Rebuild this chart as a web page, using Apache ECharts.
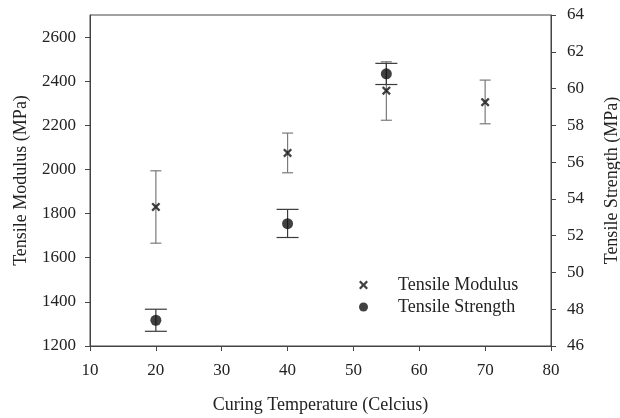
<!DOCTYPE html>
<html>
<head>
<meta charset="utf-8">
<script src="https://cdn.jsdelivr.net/npm/echarts@6/dist/echarts.min.js"></script>
<style>
  html, body { margin: 0; padding: 0; background: #fff; }
  #chart { width: 620px; height: 418px; }
</style>
</head>
<body>
<div id="chart"></div>
<script>
// Curing temperature (°C)
var temperatures = [20, 40, 55, 70];

// Tensile modulus (MPa) with error bar limits
var modulus     = [1830, 2075, 2357, 2305];
var modulusLow  = [1666, 1985, 2223, 2207];
var modulusHigh = [1994, 2165, 2488, 2405];

// Tensile strength (MPa) with error bar limits, only at 20, 40, 55 °C
var strengthTemps = [20, 40, 55];
var strength     = [47.4, 52.65, 60.8];
var strengthLow  = [46.8, 51.9, 60.22];
var strengthHigh = [48.0, 53.43, 61.37];

// Tick labels
var xTicks = [10, 20, 30, 40, 50, 60, 70, 80];
var modulusTicks = [1200, 1400, 1600, 1800, 2000, 2200, 2400, 2600];
var strengthTicks = [46, 48, 50, 52, 54, 56, 58, 60, 62, 64];

var FONT = 'Liberation Serif';
var AXIS_COLOR = '#444';
var TEXT_COLOR = '#222';
var CROSS = 'path://M0,1.8 L1.8,0 L5,3.2 L8.2,0 L10,1.8 L6.8,5 L10,8.2 L8.2,10 L5,6.8 L1.8,10 L0,8.2 L3.2,5 Z';

function pairs(xs, ys) {
  return xs.map(function (x, i) { return [x, ys[i]]; });
}
function errData(xs, lo, hi) {
  return xs.map(function (x, i) { return [x, lo[i], hi[i]]; });
}
function errRenderer(halfCap, color) {
  return function (params, api) {
    var x = api.value(0);
    var lo = api.coord([x, api.value(1)]);
    var hi = api.coord([x, api.value(2)]);
    var st = { stroke: color, lineWidth: 1.2 };
    return {
      type: 'group',
      children: [
        { type: 'line', shape: { x1: lo[0], y1: lo[1], x2: hi[0], y2: hi[1] }, style: st },
        { type: 'line', shape: { x1: lo[0] - halfCap, y1: lo[1], x2: lo[0] + halfCap, y2: lo[1] }, style: st },
        { type: 'line', shape: { x1: hi[0] - halfCap, y1: hi[1], x2: hi[0] + halfCap, y2: hi[1] }, style: st }
      ]
    };
  };
}
function plain(v) { return String(v); }

var axisLabelStyle = { fontFamily: FONT, fontSize: 17, color: TEXT_COLOR, formatter: plain };
var axisNameStyle = { fontFamily: FONT, fontSize: 18, color: TEXT_COLOR };

var chart = echarts.init(document.getElementById('chart'), null, { renderer: 'canvas' });
chart.setOption({
  animation: false,
  backgroundColor: '#fff',
  grid: {
    left: 90, right: 69, top: 15, bottom: 72,
    containLabel: false, outerBoundsMode: 'none',
    show: true, borderColor: AXIS_COLOR, borderWidth: 1, backgroundColor: 'transparent'
  },
  legend: {
    data: [
      { name: 'Tensile Modulus', icon: CROSS },
      { name: 'Tensile Strength', icon: 'circle' }
    ],
    orient: 'vertical',
    left: 354, top: 271,
    itemWidth: 9, itemHeight: 9, itemGap: 4,
    textStyle: { fontFamily: FONT, fontSize: 18, color: TEXT_COLOR, padding: [0, 0, 0, 25] }
  },
  xAxis: {
    type: 'value', min: 10, max: 80, interval: 10,
    name: 'Curing Temperature (Celcius)', nameLocation: 'middle', nameGap: 50,
    nameTextStyle: axisNameStyle,
    axisLine: { show: true, lineStyle: { color: AXIS_COLOR } },
    axisTick: { show: true, inside: false, length: 5, lineStyle: { color: AXIS_COLOR }, customValues: xTicks },
    axisLabel: Object.assign({ margin: 16, customValues: xTicks }, axisLabelStyle),
    splitLine: { show: false }
  },
  yAxis: [
    {
      type: 'value', min: 1200, max: 2700, interval: 200, position: 'left',
      name: 'Tensile Modulus (MPa)', nameLocation: 'middle', nameGap: 60,
      nameTextStyle: axisNameStyle,
      axisLine: { show: true, lineStyle: { color: AXIS_COLOR } },
      axisTick: { show: true, inside: false, length: 5, lineStyle: { color: AXIS_COLOR }, customValues: modulusTicks },
      axisLabel: Object.assign({ margin: 14, customValues: modulusTicks }, axisLabelStyle),
      splitLine: { show: false }
    },
    {
      type: 'value', min: 46, max: 64, interval: 2, position: 'right',
      name: 'Tensile Strength (MPa)', nameLocation: 'middle', nameGap: 52,
      nameTextStyle: axisNameStyle,
      axisLine: { show: true, lineStyle: { color: AXIS_COLOR } },
      axisTick: { show: true, inside: false, length: 5, lineStyle: { color: AXIS_COLOR }, customValues: strengthTicks },
      axisLabel: Object.assign({ margin: 16, customValues: strengthTicks }, axisLabelStyle),
      splitLine: { show: false }
    }
  ],
  series: [
    {
      name: 'modulus-error', type: 'custom', yAxisIndex: 0, z: 1,
      renderItem: errRenderer(5.5, '#7a7a7a'),
      encode: { x: 0, y: [1, 2] },
      data: errData(temperatures, modulusLow, modulusHigh)
    },
    {
      name: 'strength-error', type: 'custom', yAxisIndex: 1, z: 1,
      renderItem: errRenderer(11, '#3a3a3a'),
      encode: { x: 0, y: [1, 2] },
      data: errData(strengthTemps, strengthLow, strengthHigh)
    },
    {
      name: 'Tensile Modulus', type: 'scatter', yAxisIndex: 0, z: 3,
      symbol: CROSS, symbolSize: 9,
      itemStyle: { color: '#111' },
      data: pairs(temperatures, modulus)
    },
    {
      name: 'Tensile Strength', type: 'scatter', yAxisIndex: 1, z: 3,
      symbol: 'circle', symbolSize: 11,
      itemStyle: { color: '#111' },
      data: pairs(strengthTemps, strength)
    }
  ]
});
</script>
</body>
</html>
